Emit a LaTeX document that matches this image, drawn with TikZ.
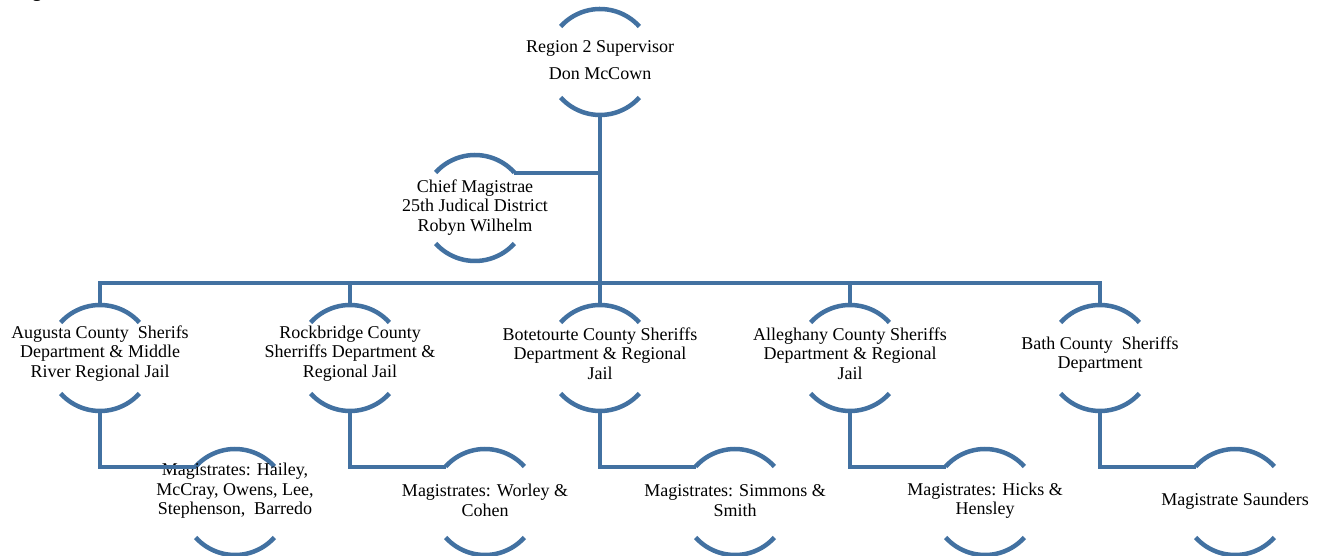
\documentclass[tikz,border=0pt]{standalone}
\usepackage{fontspec}
\setmainfont{Liberation Serif}
\definecolor{sb}{RGB}{66,113,161}
\begin{document}
\begin{tikzpicture}[x=1pt,y=1pt,
  hub/.style={circle,draw=none,minimum size=106pt,inner sep=0pt,outer sep=0pt},
  lbl/.style={font=\fontsize{18}{19.5}\selectfont,align=center,inner sep=0pt,text=black},
  ring/.style={draw=sb,line width=4.5pt},
  conn/.style={draw=sb,line width=4pt}]
\useasboundingbox (0,0) rectangle (1324,556);
\node[font=\bfseries\fontsize{18}{20}\selectfont,anchor=base,inner sep=0pt] (fig) at (37,558) {g};
% circles
\node[hub] (top) at (600,494) {};
\node[hub] (chief) at (475,348) {};
\node[hub] (a) at (100,198) {};
\node[hub] (b) at (350,198) {};
\node[hub] (c) at (600,198) {};
\node[hub] (d) at (850,198) {};
\node[hub] (e) at (1100,198) {};
\node[hub] (ma) at (235,54) {};
\node[hub] (mb) at (485,54) {};
\node[hub] (mc) at (735,54) {};
\node[hub] (md) at (985,54) {};
\node[hub] (me) at (1235,54) {};
\foreach \n in {top,chief,a,b,c,d,e,ma,mb,mc,md,me}{
  \draw[ring] (\n.42) arc[start angle=42,end angle=138,radius=53pt];
  \draw[ring] (\n.222) arc[start angle=222,end angle=318,radius=53pt];
}
% texts
\node[lbl] (topT) at (600,495.5) {Region 2 Supervisor\\[7.5pt]Don McCown};
\node[lbl] (chiefT) at (475,348.5) {Chief Magistrae\\25th Judical District\\Robyn Wilhelm};
\node[lbl] (aT) at (100,202.5) {Augusta County\ \ Sherifs\\Department \& Middle\\River Regional Jail};
\node[lbl] (bT) at (350,202.5) {Rockbridge County\\Sherriffs Department \&\\Regional Jail};
\node[lbl] (cT) at (600,202.5) {Botetourte County Sheriffs\\Department \& Regional\\Jail};
\node[lbl] (dT) at (850,202.5) {Alleghany County Sheriffs\\Department \& Regional\\Jail};
\node[lbl] (eT) at (1100,201.5) {Bath County\ \ Sheriffs\\Department};
\node[lbl] (maT) at (235,65) {Magistrates: Hailey,\\McCray, Owens, Lee,\\Stephenson,\ \ Barredo};
\node[lbl] (mbT) at (485,55.5) {Magistrates: Worley \&\\Cohen};
\node[lbl] (mcT) at (735,55.5) {Magistrates: Simmons \&\\Smith};
\node[lbl] (mdT) at (985,55.5) {Magistrates: Hicks \&\\Hensley};
\node[lbl] (meT) at (1235,55) {Magistrate Saunders};
% connectors
\coordinate (bar) at (600,273);
\draw[conn] (top.south) -- (bar);
\draw[conn] (a.north) |- (bar) -| (e.north);
\draw[conn] (b.north) -- (b.north |- bar);
\draw[conn] (c.north) -- (bar);
\draw[conn] (d.north) -- (d.north |- bar);
\draw[conn] (chief.42) -- (chief.42 -| top.south);
\draw[conn] (a.south) |- (ma.138);
\draw[conn] (b.south) |- (mb.138);
\draw[conn] (c.south) |- (mc.138);
\draw[conn] (d.south) |- (md.138);
\draw[conn] (e.south) |- (me.138);
\end{tikzpicture}
\end{document}
